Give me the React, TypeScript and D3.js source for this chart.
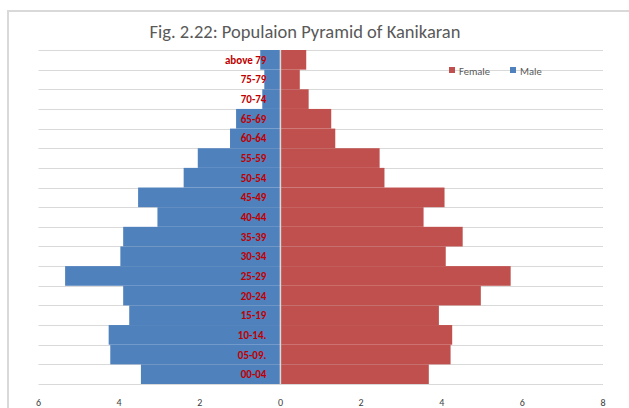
import { useEffect, useRef } from 'react';
import * as d3 from 'd3';

const AGE_GROUPS = ['above 79', '75-79', '70-74', '65-69', '60-64', '55-59', '50-54', '45-49', '40-44', '35-39', '30-34', '25-29', '20-24', '15-19', '10-14.', '05-09.', '00-04'];
const MALE = [0.5, 0.4, 0.45, 1.1, 1.25, 2.05, 2.4, 3.53, 3.05, 3.9, 3.97, 5.34, 3.9, 3.75, 4.26, 4.22, 3.46];
const FEMALE = [0.64, 0.48, 0.7, 1.26, 1.36, 2.46, 2.58, 4.07, 3.55, 4.52, 4.1, 5.71, 4.97, 3.93, 4.26, 4.22, 3.68];
const X_TICKS = [-6, -4, -2, 0, 2, 4, 6, 8];
const TITLE = 'Fig. 2.22: Populaion Pyramid of Kanikaran';

const BLUE = '#4f81bd';
const RED = '#c0504d';
const GRID = '#d9d9d9';
const FONT = 'Carlito, Calibri, "Open Sans", "Noto Sans", sans-serif';

export default function App() {
  const svgRef = useRef<SVGSVGElement>(null);

  useEffect(() => {
    const svg = d3.select(svgRef.current);
    svg.selectAll('*').remove();
    const W = 629, H = 408;

    const x = d3.scaleLinear().domain([-6, 8]).range([38.5, 603]);
    const y = d3.scaleBand().domain(AGE_GROUPS).range([50, 384]).padding(0);

    // chart frame
    svg.append('path').attr('d', `M8,${H}V11H${W}`)
      .attr('fill', 'none').attr('stroke', GRID).attr('stroke-width', 2);

    svg.append('text').attr('x', 305).attr('y', 38).attr('text-anchor', 'middle')
      .attr('font-family', FONT).attr('font-size', 18.5).attr('fill', '#595959').text(TITLE);

    // gridlines at band edges
    const edges = AGE_GROUPS.map((g) => y(g)!).concat([384]);
    svg.append('g').selectAll('line').data(edges).join('line')
      .attr('x1', x(-6)).attr('x2', x(8))
      .attr('y1', (d) => Math.round(d) + 0.5).attr('y2', (d) => Math.round(d) + 0.5)
      .attr('stroke', GRID).attr('stroke-width', 1);

    svg.append('g').selectAll('rect').data(MALE).join('rect')
      .attr('x', (d) => x(-d)).attr('width', (d) => x(0) - x(-d))
      .attr('y', (_, i) => y(AGE_GROUPS[i])!).attr('height', y.bandwidth())
      .attr('fill', BLUE);

    svg.append('g').selectAll('rect').data(FEMALE).join('rect')
      .attr('x', x(0)).attr('width', (d) => x(d) - x(0))
      .attr('y', (_, i) => y(AGE_GROUPS[i])!).attr('height', y.bandwidth())
      .attr('fill', RED);

    // zero axis line
    svg.append('line').attr('x1', x(0)).attr('x2', x(0)).attr('y1', 50).attr('y2', 384)
      .attr('stroke', GRID).attr('stroke-width', 1.5);

    // category labels
    svg.append('g').selectAll('text').data(AGE_GROUPS).join('text')
      .attr('x', x(0) - 14).attr('y', (d) => y(d)! + y.bandwidth() / 2 + 4)
      .attr('text-anchor', 'end').attr('font-family', FONT).attr('font-weight', 'bold')
      .attr('font-size', 11).attr('fill', '#c00000').text((d) => d);

    // x tick labels
    svg.append('g').selectAll('text').data(X_TICKS).join('text')
      .attr('x', (d) => x(d)).attr('y', 406).attr('text-anchor', 'middle')
      .attr('font-family', FONT).attr('font-size', 10).attr('fill', '#404040')
      .text((d) => Math.abs(d));

    // legend
    const legend = svg.append('g').attr('font-family', FONT).attr('font-size', 10.5).attr('fill', '#595959');
    [{ label: 'Female', color: RED, x: 449 }, { label: 'Male', color: BLUE, x: 510 }].forEach((l) => {
      legend.append('rect').attr('x', l.x).attr('y', 67).attr('width', 6).attr('height', 6).attr('fill', l.color);
      legend.append('text').attr('x', l.x + 10).attr('y', 74.5).text(l.label);
    });
  }, []);

  return (
    <div style={{ position: 'fixed', left: 0, top: 0, width: 629, height: 408, background: '#fff' }}>
      <svg ref={svgRef} width={629} height={408} role="img" aria-label={TITLE} />
    </div>
  );
}
